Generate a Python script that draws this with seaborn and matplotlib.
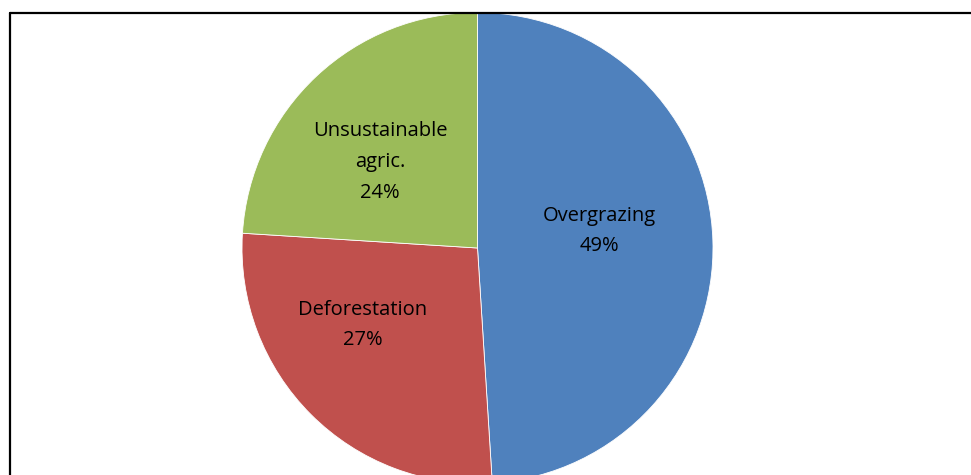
import matplotlib
matplotlib.use("Agg")
import matplotlib.pyplot as plt
from matplotlib.lines import Line2D
import seaborn as sns

# Data
categories = ["Overgrazing", "Deforestation", "Unsustainable\nagric."]
shares = [49, 27, 24]
colors = ["#4F81BD", "#C0504D", "#9BBB59"]

sns.set_theme(style="white")
plt.rcParams["font.family"] = ["Open Sans", "DejaVu Sans"]
palette = sns.color_palette(colors)

W, H = 971, 475
fig = plt.figure(figsize=(W / 100, H / 100), dpi=100)
fig.patch.set_facecolor("white")
ax = fig.add_axes([0, 0, 1, 1])
ax.set_facecolor("white")

labels = [f"{c}\n{v}%" for c, v in zip(categories, shares)]
wedges, texts = ax.pie(
    shares,
    colors=palette,
    startangle=90,
    counterclock=False,
    radius=1.0,
    labels=labels,
    labeldistance=0.55,
    wedgeprops=dict(edgecolor="white", linewidth=0.6),
    textprops=dict(fontsize=14.5, color="black", ha="center", va="center",
                   multialignment="center", linespacing=1.7),
)

# pie geometry in pixels
cx, cy_top, R = 477.5, 248.0, 235.5
ax.set_xlim(-cx / R, (W - cx) / R)
ax.set_ylim(-(H - cy_top) / R, cy_top / R)
ax.set_aspect("equal", adjustable="datalim")
ax.axis("off")

# label placement (pixel centers)
label_px = [(599.5, 231), (362.5, 325), (380, 162)]
for t, (px, py) in zip(texts, label_px):
    t.set_position(((px - cx) / R, (cy_top - py) / R))
    t.set_ha("center")
    t.set_va("center")

# border (left and top lines)
fig.add_artist(Line2D([10 / W, 10 / W], [0, 1 - 13 / H], transform=fig.transFigure,
                      color="black", linewidth=1.6))
fig.add_artist(Line2D([10 / W, 1], [1 - 13 / H, 1 - 13 / H], transform=fig.transFigure,
                      color="black", linewidth=1.6))

fig.savefig("out.png", dpi=100, facecolor="white")
